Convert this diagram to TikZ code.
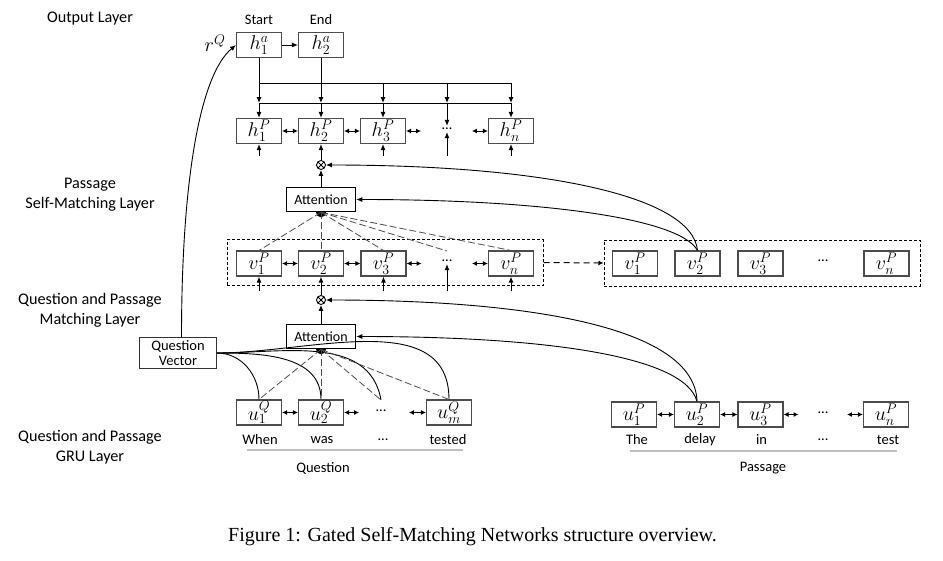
\RequirePackage{fix-cm}
\documentclass[tikz,border=0pt]{standalone}
\usepackage{fontspec}
\newfontfamily\carl{Carlito}
\newfontfamily\capfont{Liberation Serif}
\usetikzlibrary{arrows.meta,backgrounds}
\newcommand\mfs{\fontsize{20}{20}\selectfont}
\begin{document}
\begin{tikzpicture}[x=1pt,y=-1pt,
  every node/.style={font=\carl},
  box/.style={draw=black!70,line width=1.1pt,minimum width=45pt,minimum height=25pt,inner sep=0pt,fill=white,font=\mfs},
  attbox/.style={draw=black,line width=1.6pt,minimum width=69pt,minimum height=24pt,inner sep=0pt,fill=white,font=\carl\fontsize{14}{14}\selectfont},
  lbl/.style={font=\carl\fontsize{16.2}{20}\selectfont,align=center},
  word/.style={font=\carl\fontsize{14.5}{16}\selectfont,inner sep=2pt},
  arr/.style={-{Latex[length=6pt,width=5pt]},line width=1pt},
  darr/.style={{Latex[length=5pt,width=5pt]}-{Latex[length=5pt,width=5pt]},line width=1pt},
  attline/.style={dash pattern=on 7pt off 3pt,black!70,line width=0.8pt},
  dbox/.style={draw,dash pattern=on 3pt off 2pt,line width=1pt,minimum width=316pt,minimum height=46pt,inner sep=0pt},
  otim/.style={circle,draw,line width=0.9pt,minimum size=9pt,inner sep=0pt,fill=white,
    path picture={\draw[line width=0.8pt] (path picture bounding box.north west)--(path picture bounding box.south east) (path picture bounding box.north east)--(path picture bounding box.south west);}},
  gline/.style={black!25,line width=2pt},
  curve/.style={line width=0.9pt}
]
\useasboundingbox (0,0) rectangle (943,560);

% left labels
\node[lbl] (L1) at (90,19) {Output Layer};
\node[lbl] (L2) at (90,195) {Passage\\Self-Matching Layer};
\node[lbl] (L3) at (90,310) {Question and Passage\\Matching Layer};
\node[lbl] (L4) at (90,447) {Question and Passage\\GRU Layer};

% output layer
\node[word] (st) at (259,20) {Start};
\node[word] (en) at (321,20) {End};
\node[box] (h1a) at (259,45) {$h_1^a$};
\node[box] (h2a) at (321,45) {$h_2^a$};
\node[font=\mfs] (rq) at (215,43) {$r^Q$};
\draw[arr] (h1a) -- (h2a);

% h^P row
\node[box] (h1p) at (259,131) {$h_1^P$};
\node[box] (h2p) at (321,131) {$h_2^P$};
\node[box] (h3p) at (383,131) {$h_3^P$};
\node[word] (hd) at (447,129) {...};
\node[box] (hnp) at (511,131) {$h_n^P$};

\foreach \i/\x in {1/259,2/321,3/383,4/447,5/511}{
  \coordinate (t\i) at (\x,83);
  \coordinate (b\i) at (\x,103);
  \coordinate (c\i) at (\x,156);
}
\draw[line width=1pt] (h1a.south) -- (t1) -- (t5);
\draw[line width=1pt] (h2a.south) -- (t2);
\draw[line width=1pt] (b1) -- (b5);
\foreach \i in {1,...,5}{ \draw[arr] (t\i) -- (b\i); }
\draw[arr] (b1) -- (h1p);
\draw[arr] (b2) -- (h2p);
\draw[arr] (b3) -- (h3p);
\draw[arr] (b4) -- (hd);
\draw[arr] (b5) -- (hnp);
\draw[arr] (c1) -- (h1p);
\draw[arr] (c3) -- (h3p);
\draw[arr] (c4) -- (hd);
\draw[arr] (c5) -- (hnp);
\draw[darr] (h1p) -- (h2p);
\draw[darr] (h2p) -- (h3p);
\draw[darr] (h3p.east) -- ++(15,0);
\draw[darr] (hnp.west) -- ++(-16,0);

% self-matching attention
\node[otim] (ot1) at (321,165) {};
\node[attbox] (att1) at (321,199.5) {Attention};
\draw[arr] (ot1) -- (h2p);
\draw[arr] (att1) -- (ot1);

% passage v row (left)
\node[dbox] (pb1) at (385,262.5) {};
\node[box] (v1) at (259,263.5) {$v_1^P$};
\node[box] (v2) at (321,263.5) {$v_2^P$};
\node[box] (v3) at (383.5,263.5) {$v_3^P$};
\node[word] (vd) at (447,261) {...};
\node[box] (vn) at (511,263.5) {$v_n^P$};
\coordinate (vdt) at (447,251);
\draw[attline] (att1.south) -- (v1.north);
\draw[attline] (att1.south) -- (v2.north);
\draw[attline] (att1.south) -- (v3.north);
\draw[attline] (att1.south) -- (vdt);
\draw[attline] (att1.south) -- (vn.north);
\draw[darr] (v1) -- (v2);
\draw[darr] (v2) -- (v3);
\draw[darr] (v3.east) -- ++(15,0);
\draw[darr] (vn.west) -- ++(-16,0);
\foreach \i/\x in {1/259,3/383.5,4/447,5/511}{ \coordinate (d\i) at (\x,291); }
\draw[arr] (d1) -- (v1);
\draw[arr] (d3) -- (v3);
\draw[arr] (d4) -- (vd);
\draw[arr] (d5) -- (vn);

% passage v row (right)
\node[dbox] (pb2) at (762,263) {};
\node[box] (rv1) at (635,263.5) {$v_1^P$};
\node[box] (rv2) at (697.5,263.5) {$v_2^P$};
\node[box] (rv3) at (760.5,263.5) {$v_3^P$};
\node[word] (rvd) at (823,261) {...};
\node[box] (rvn) at (886.5,263.5) {$v_n^P$};
\draw[-{Latex[length=5pt,width=5pt]},dash pattern=on 6pt off 4pt,line width=1pt] (pb1.east) -- (pb2.west);
\draw[arr,curve] (rv2.north) .. controls (692,195) and (540,165) .. (ot1.east);
\draw[arr,curve] (rv2.north) .. controls (680,218) and (540,199.5) .. (att1.east);

% question-passage matching
\node[otim] (ot2) at (321,300) {};
\node[attbox] (att2) at (321,336.5) {Attention};
\draw[arr] (ot2) -- (v2);
\draw[arr] (att2) -- (ot2);

% question row
\node[box] (u1q) at (259,412.5) {$u_1^Q$};
\node[box] (u2q) at (321,412.5) {$u_2^Q$};
\node[word] (uqd) at (381,411) {...};
\node[box] (umq) at (449,412.5) {$u_m^Q$};
\coordinate (qd) at (381,400);
\draw[darr] (u1q) -- (u2q);
\draw[darr] (u2q.east) -- ++(15,0);
\draw[darr] (umq.west) -- ++(-17,0);

% question vector
\node[draw=black!80,line width=0.9pt,minimum width=77pt,minimum height=31pt,inner sep=0pt,align=center,fill=white,font=\carl\fontsize{14.5}{15.5}\selectfont] (qv) at (178,353) {Question\\Vector};
\draw[curve] (qv.east) to[out=0,in=90] (u1q.north);
\draw[curve] (qv.east) to[out=0,in=90] (u2q.north);
\draw[curve] (qv.east) to[out=0,in=100] (qd);
\draw[curve] (qv.east) to[out=0,in=90] (umq.north);
\draw[arr,curve] ([xshift=3.5pt]qv.north) .. controls (181.5,180) and (200,75) .. (h1a.west);

\draw[attline] (att2.south) -- (u1q.north);
\draw[attline] (att2.south) -- (u2q.north);
\draw[attline] (att2.south) -- (qd);
\draw[attline] (att2.south) -- (umq.north);

% passage row
\node[box] (u1p) at (634,414.5) {$u_1^P$};
\node[box] (u2p) at (697,414.5) {$u_2^P$};
\node[box] (u3p) at (760.5,414.5) {$u_3^P$};
\node[word] (upd) at (823,413) {...};
\node[box] (unp) at (886,414.5) {$u_n^P$};
\draw[darr] (u1p) -- (u2p);
\draw[darr] (u2p) -- (u3p);
\draw[darr] (u3p.east) -- ++(15,0);
\draw[darr] (unp.west) -- ++(-16,0);
\draw[arr,curve] (u2p.north) .. controls (695,325) and (520,300) .. (ot2.east);
\draw[arr,curve] (u2p.north) .. controls (685,355) and (540,336.5) .. (att2.east);

% black attention dots
\begin{scope}[on background layer]
\fill (att1.south) circle[radius=5pt];
\fill (att2.south) circle[radius=5pt];
\end{scope}

% words
\node[word] (w1) at (260,440) {When};
\node[word] (w2) at (322,440) {was};
\node[word] (w3) at (383,440) {...};
\node[word] (w4) at (448,440) {tested};
\draw[gline] (247,450) -- (463,450);
\node[word] (qlab) at (323,468) {Question};

\node[word] (p1) at (637,440) {The};
\node[word] (p2) at (700,440) {delay};
\node[word] (p3) at (761.5,440) {in};
\node[word] (p4) at (823,440) {...};
\node[word] (p5) at (888,440) {test};
\draw[gline] (630,450.7) -- (897,450.7);
\node[word] (plab) at (763,468) {Passage};

% caption
\node[font=\capfont\fontsize{20}{24}\selectfont] (cap) at (472.5,537) {Figure 1: Gated Self-Matching Networks structure overview.};
\end{tikzpicture}
\end{document}
